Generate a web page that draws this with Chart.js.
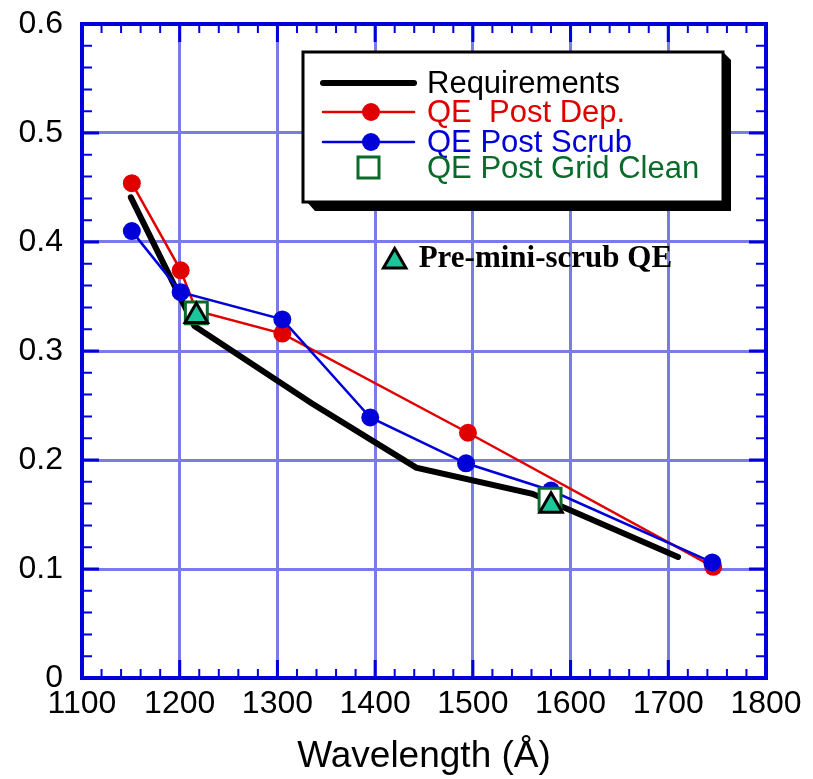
<!DOCTYPE html>
<html>
<head>
<meta charset="utf-8">
<script src="https://cdn.jsdelivr.net/npm/chart.js@4"></script>
<style>
  html, body { margin: 0; padding: 0; background: #fff; }
  #wrap { width: 813px; height: 779px; }
</style>
</head>
<body>
<div id="wrap"><canvas id="qeChart" width="813" height="779"></canvas></div>
<script>
// values
let reqWave = [1150, 1215, 1335, 1442, 1561, 1710];
let reqQE = [0.441, 0.323, 0.252, 0.193, 0.169, 0.111];

let depWave = [1151, 1201, 1217, 1305, 1495, 1746];
let depQE = [0.454, 0.374, 0.337, 0.316, 0.225, 0.102];

let scrubWave = [1151, 1201, 1305, 1395, 1493, 1580, 1745];
let scrubQE = [0.410, 0.354, 0.329, 0.239, 0.197, 0.172, 0.106];

let gridWave = [1217, 1579];
let gridQE = [0.335, 0.164];

let miniWave = [1217, 1580];
let miniQE = [0.332, 0.158];

let xTicks = [1100, 1200, 1300, 1400, 1500, 1600, 1700, 1800];
let yTicks = [0, 0.1, 0.2, 0.3, 0.4, 0.5, 0.6];

let axisBlue = "#0000dd";
let gridBlue = "#7b7be8";
let red = "#e00000";
let blue = "#0000d8";
let darkGreen = "#0b6a2a";
let teal = "#1dc59a";

function pts(xs, ys) {
  return xs.map((x, i) => ({ x: x, y: ys[i] }));
}

// frame, inward major/minor ticks on all four sides
const framePlugin = {
  id: "frame",
  beforeDatasetsDraw(chart) {
    const ctx = chart.ctx;
    const a = chart.chartArea;
    const xs = chart.scales.x;
    const ys = chart.scales.y;
    ctx.save();
    ctx.strokeStyle = axisBlue;
    for (let v = xTicks[0]; v <= xTicks[xTicks.length - 1]; v += 20) {
      const px = xs.getPixelForValue(v);
      const major = v % 100 == 0;
      const len = major ? 18 : 9;
      ctx.lineWidth = major ? 3 : 2;
      ctx.beginPath();
      ctx.moveTo(px, a.bottom); ctx.lineTo(px, a.bottom - len);
      ctx.moveTo(px, a.top); ctx.lineTo(px, a.top + len);
      ctx.stroke();
    }
    for (let k = 0; k <= 30; k++) {
      const v = k * 0.02;
      const py = ys.getPixelForValue(v);
      const major = k % 5 == 0;
      const len = major ? 17 : 10;
      ctx.lineWidth = major ? 3 : 2;
      ctx.beginPath();
      ctx.moveTo(a.left, py); ctx.lineTo(a.left + len, py);
      ctx.moveTo(a.right, py); ctx.lineTo(a.right - len, py);
      ctx.stroke();
    }
    ctx.lineWidth = 4;
    ctx.strokeRect(a.left, a.top, a.right - a.left, a.bottom - a.top);
    ctx.restore();
  }
};

// boxed legend with shadow + the triangle note
const notePlugin = {
  id: "notes",
  afterDraw(chart) {
    const ctx = chart.ctx;
    ctx.save();
    let bx = 303, by = 52, bw = 420, bh = 150;
    ctx.fillStyle = "#000";
    ctx.beginPath();
    ctx.moveTo(bx + 4, by + bh);
    ctx.lineTo(bx + 12, by + bh + 9);
    ctx.lineTo(bx + bw + 8, by + bh + 9);
    ctx.lineTo(bx + bw + 8, by + 8);
    ctx.lineTo(bx + bw, by);
    ctx.closePath();
    ctx.fill();
    ctx.fillStyle = "#fff";
    ctx.fillRect(bx, by, bw, bh);
    ctx.lineWidth = 3;
    ctx.strokeStyle = "#000";
    ctx.strokeRect(bx, by, bw, bh);

    ctx.font = "31px 'Liberation Sans', Arial, sans-serif";
    ctx.textBaseline = "middle";
    ctx.textAlign = "left";
    let rows = [
      { ds: chart.data.datasets[4], y: 83, textColor: "#000" },
      { ds: chart.data.datasets[3], y: 112, textColor: red },
      { ds: chart.data.datasets[2], y: 142, textColor: blue },
      { ds: chart.data.datasets[1], y: 168, textColor: darkGreen }
    ];
    rows.forEach(r => {
      const ds = r.ds;
      if (ds.showLine) {
        ctx.strokeStyle = ds.borderColor;
        ctx.lineWidth = ds.borderWidth;
        ctx.lineCap = "round";
        ctx.beginPath();
        ctx.moveTo(323, r.y); ctx.lineTo(414, r.y);
        ctx.stroke();
      }
      if (ds.pointStyle == "circle" && ds.pointRadius > 0) {
        ctx.fillStyle = ds.pointBackgroundColor;
        ctx.beginPath();
        ctx.arc(371, r.y, ds.pointRadius, 0, Math.PI * 2);
        ctx.fill();
      }
      if (ds.pointStyle == "rect") {
        ctx.strokeStyle = ds.pointBorderColor;
        ctx.lineWidth = 3;
        ctx.strokeRect(358, r.y - 11, 21, 21);
      }
      ctx.fillStyle = r.textColor;
      ctx.fillText(ds.label, 427, r.y + 1);
    });

    // "Pre-mini-scrub QE" note
    const xs = chart.scales.x, ys = chart.scales.y;
    const tx = xs.getPixelForValue(1420), ty = ys.getPixelForValue(0.382);
    const r = 13;
    ctx.beginPath();
    ctx.moveTo(tx, ty - r);
    ctx.lineTo(tx + r * 0.866, ty + r / 2);
    ctx.lineTo(tx - r * 0.866, ty + r / 2);
    ctx.closePath();
    ctx.fillStyle = teal;
    ctx.fill();
    ctx.strokeStyle = "#000";
    ctx.lineWidth = 3;
    ctx.lineJoin = "miter";
    ctx.stroke();
    ctx.fillStyle = "#000";
    ctx.font = "bold 31px 'Liberation Serif', 'Times New Roman', serif";
    ctx.fillText("Pre-mini-scrub QE", tx + 24, ty - 3);
    ctx.restore();
  }
};

const ctx = document.getElementById("qeChart").getContext("2d");
const myChart = new Chart(ctx, {
  type: "scatter",
  data: {
    datasets: [
      {
        label: "Pre-mini-scrub QE",
        data: pts(miniWave, miniQE),
        pointStyle: "triangle",
        pointRadius: 13,
        pointBackgroundColor: teal,
        pointBorderColor: "#000",
        pointBorderWidth: 3,
        showLine: false,
        order: 0
      },
      {
        label: "QE Post Grid Clean",
        data: pts(gridWave, gridQE),
        pointStyle: "rect",
        pointRadius: 15.5,
        pointBackgroundColor: "#fff",
        pointBorderColor: darkGreen,
        pointBorderWidth: 3,
        showLine: false,
        order: 1
      },
      {
        label: "QE Post Scrub",
        data: pts(scrubWave, scrubQE),
        showLine: true,
        borderColor: blue,
        borderWidth: 2.5,
        pointStyle: "circle",
        pointRadius: 9,
        pointBackgroundColor: blue,
        pointBorderColor: blue,
        pointBorderWidth: 0,
        order: 2
      },
      {
        label: "QE  Post Dep.",
        data: pts(depWave, depQE),
        showLine: true,
        borderColor: red,
        borderWidth: 2.5,
        pointStyle: "circle",
        pointRadius: 9,
        pointBackgroundColor: red,
        pointBorderColor: red,
        pointBorderWidth: 0,
        order: 3
      },
      {
        label: "Requirements",
        data: pts(reqWave, reqQE),
        showLine: true,
        borderColor: "#000",
        borderWidth: 6,
        borderCapStyle: "round",
        borderJoinStyle: "miter",
        pointStyle: "circle",
        pointRadius: 0,
        order: 4
      }
    ]
  },
  options: {
    responsive: false,
    animation: false,
    layout: { padding: { top: 24, right: 47, left: 0, bottom: 0 } },
    plugins: {
      legend: { display: false },
      tooltip: { enabled: false }
    },
    scales: {
      x: {
        type: "linear",
        min: xTicks[0],
        max: xTicks[xTicks.length - 1],
        afterBuildTicks: s => { s.ticks = xTicks.map(v => ({ value: v })); },
        afterFit: s => { s.height = 101; },
        grid: { color: gridBlue, lineWidth: 3, drawTicks: false },
        border: { display: false },
        ticks: {
          color: "#000",
          padding: 7,
          maxRotation: 0,
          font: { family: "'Liberation Sans', Arial, sans-serif", size: 32 },
          callback: v => String(v)
        },
        title: {
          display: true,
          text: "Wavelength (Å)",
          color: "#000",
          padding: { top: 0, bottom: 0 },
          font: { family: "'Liberation Sans', Arial, sans-serif", size: 37, lineHeight: 1.2 }
        }
      },
      y: {
        type: "linear",
        min: yTicks[0],
        max: yTicks[yTicks.length - 1],
        afterBuildTicks: s => { s.ticks = yTicks.map(v => ({ value: v })); },
        afterFit: s => { s.width = 82; s.paddingTop = 0; s.paddingBottom = 0; },
        grid: { color: gridBlue, lineWidth: 3, drawTicks: false },
        border: { display: false },
        ticks: {
          color: "#000",
          padding: 19,
          font: { family: "'Liberation Sans', Arial, sans-serif", size: 32 },
          callback: v => String(+v.toFixed(1))
        }
      }
    }
  },
  plugins: [framePlugin, notePlugin]
});
</script>
</body>
</html>
